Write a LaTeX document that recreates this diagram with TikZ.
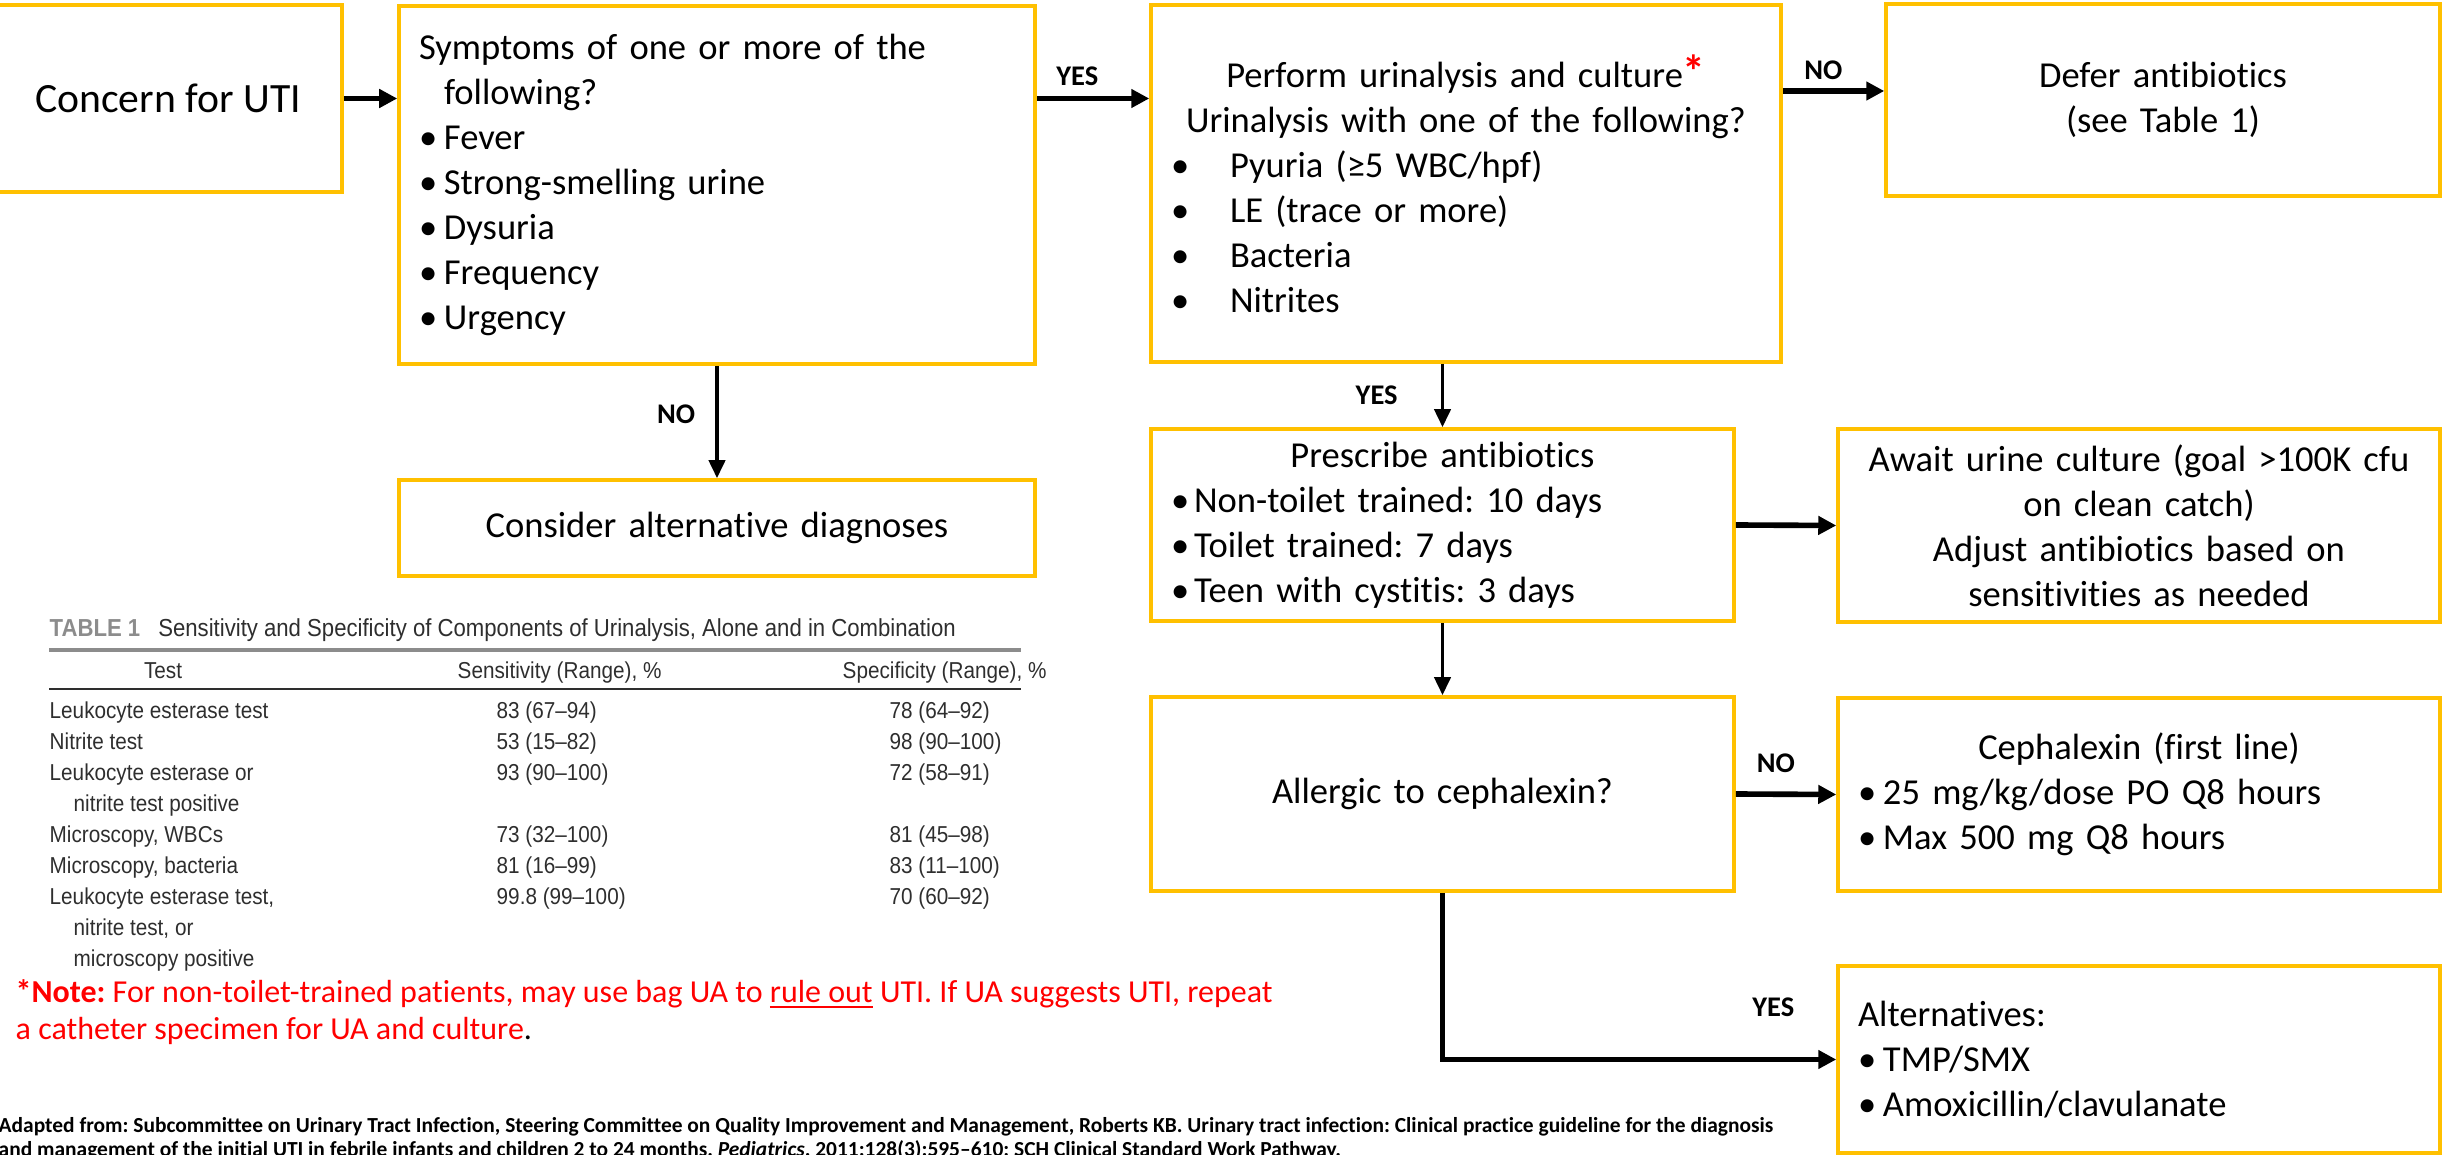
\documentclass[tikz,border=0pt]{standalone}
\usepackage{fontspec}
\setmainfont[Ligatures = NoCommon]{Carlito}
\newfontfamily\tabfont[FakeStretch = 0.9]{Liberation Sans}
\usepackage{xcolor}
\usepackage{tikz}
\usetikzlibrary{arrows.meta}
\definecolor{boxgold}{HTML}{FFC000}
\definecolor{tabgray}{HTML}{2E2E2E}
\definecolor{rulegray}{HTML}{8C8C8C}
\definecolor{notered}{HTML}{FF0000}
\frenchspacing
\tikzstyle{block} = [rectangle, draw = boxgold, line width = 1pt, inner xsep = 0.2cm, inner ysep = 0pt, font = \fontsize{10.4pt}{12.8pt}\selectfont]
\tikzstyle{line} = [line width = 1.6pt, -{Triangle[length = 0.18cm, width = 0.18cm]}]
\tikzstyle{vline} = [line width = 1.1pt, -{Triangle[length = 0.18cm, width = 0.16cm]}]
\tikzstyle{lbl} = [inner sep = 0pt, font = \fontsize{8.1pt}{9pt}\selectfont\bfseries]
\tikzstyle{tab} = [inner sep = 0pt, anchor = base west, text = tabgray, font = \tabfont\fontsize{6.55pt}{8pt}\selectfont]
\tikzstyle{note} = [inner sep = 0pt, anchor = base west, text = notered, font = \fontsize{9.1pt}{10.5pt}\selectfont]
\tikzstyle{cite} = [inner sep = 0pt, anchor = base west, font = \fontsize{6.1pt}{6.8pt}\selectfont\bfseries]
\newcommand{\bul}[1]{\makebox[#1][l]{\textbullet}}

\begin{document}
\begin{tikzpicture}
        \useasboundingbox (0,0) rectangle (24.42,-11.55);
        % flow boxes
        \node (concern) [block, minimum width = 3.48cm, minimum height = 1.87cm, font = \fontsize{11.86pt}{14pt}\selectfont] at (1.68,-0.985) {Concern for UTI};
        \node (sym) [block, text width = 5.96cm, minimum height = 3.58cm, align = left] at (7.17,-1.85) {Symptoms of one or more of the\\ \hspace*{0.25cm}following?\\ \bul{0.25cm}Fever\\ \bul{0.25cm}Strong-smelling urine\\ \bul{0.25cm}Dysuria\\ \bul{0.25cm}Frequency\\ \bul{0.25cm}Urgency\par\vspace*{0.1cm}};
        \node (consider) [block, text width = 5.96cm, minimum height = 0.96cm, align = center] at (7.17,-5.28) {Consider alternative diagnoses};
        \node (perform) [block, text width = 5.90cm, minimum height = 3.57cm, align = left] at (14.66,-1.835) {\makebox[\linewidth]{Perform urinalysis and culture\textcolor{notered}{\fontsize{13pt}{13pt}\selectfont\textbf{*}}}\\ \makebox[\linewidth]{Urinalysis with one of the following?}\\ \bul{0.59cm}Pyuria (≥5 WBC/hpf)\\ \bul{0.59cm}LE (trace or more)\\ \bul{0.59cm}Bacteria\\ \bul{0.59cm}Nitrites};
        \node (defer) [block, text width = 5.14cm, minimum height = 1.92cm, align = center] at (21.63,-1.00) {Defer antibiotics\\(see Table 1)};
        \node (presc) [block, text width = 5.43cm, minimum height = 1.92cm, align = left] at (14.425,-5.25) {\makebox[\linewidth]{Prescribe antibiotics}\\ \bul{0.23cm}Non-toilet trained: 10 days\\ \bul{0.23cm}Toilet trained: 7 days\\ \bul{0.23cm}Teen with cystitis: 3 days};
        \node (await) [block, text width = 5.62cm, minimum height = 1.93cm, align = center] at (21.39,-5.255) {Await urine culture (goal >100K cfu\\on clean catch)\\Adjust antibiotics based on\\sensitivities as needed};
        \node (allergic) [block, text width = 5.43cm, minimum height = 1.94cm, align = center] at (14.425,-7.94) {Allergic to cephalexin?};
        \node (ceph) [block, text width = 5.62cm, minimum height = 1.93cm, align = left] at (21.39,-7.945) {\makebox[\linewidth]{Cephalexin (first line)}\\ \bul{0.25cm}25 mg/kg/dose PO Q8 hours\\ \bul{0.25cm}Max 500 mg Q8 hours};
        \node (alt) [block, text width = 5.62cm, minimum height = 1.87cm, align = left] at (21.39,-10.595) {Alternatives:\\ \bul{0.25cm}TMP/SMX\\ \bul{0.25cm}Amoxicillin/clavulanate};
        \coordinate (nofork) at ([yshift = 0.09cm]defer.west);
        % connectors
        \draw[line] (concern.east) -- (concern.east -| sym.west);
        \draw[line] (sym.east |- concern.east) --node[lbl, above = 0.1cm, pos = 0.36]{YES} (perform.west |- concern.east);
        \draw[line] (perform.east |- nofork) --node[lbl, above = 0.08cm, pos = 0.4]{NO} (nofork);
        \draw[vline] (sym.south) --node[lbl, left = 0.2cm, pos = 0.43]{NO} (consider.north);
        \draw[vline] (presc.north |- perform.south) --node[lbl, left = 0.43cm, pos = 0.5]{YES} (presc.north);
        \draw[line] (presc.east) -- (await.west);
        \draw[vline] (presc.south) -- (allergic.north);
        \draw[line] (allergic.east) --node[lbl, above = 0.19cm, pos = 0.4]{NO} (ceph.west);
        \draw[line] (allergic.south) |-node[lbl, above = 0.4cm, pos = 0.92]{YES} (alt.west);
        % table 1
        \node (tabtitle) [tab, font = \tabfont\fontsize{7pt}{8pt}\selectfont] at (0.49,-6.36) {\textcolor{rulegray}{\textbf{TABLE 1}}\hspace{0.18cm}Sensitivity and Specificity of Components of Urinalysis, Alone and in Combination};
        \draw[rulegray, line width = 0.9pt] (0.49,-6.50) -- (10.21,-6.50);
        \draw[tabgray, line width = 0.55pt] (0.49,-6.89) -- (10.21,-6.89);
        \node (hdtest) [tab, anchor = base] at (1.63,-6.78) {Test};
        \node (hdsens) [tab] at (4.57,-6.78) {Sensitivity (Range), \%};
        \node (hdspec) [tab] at (8.42,-6.78) {Specificity (Range), \%};
        \node (r1) [tab] at (0.49,-7.18) {Leukocyte esterase test};
        \node (r1a) [tab] at (4.96,-7.18) {83 (67–94)};
        \node (r1b) [tab] at (8.89,-7.18) {78 (64–92)};
        \node (r2) [tab] at (0.49,-7.49) {Nitrite test};
        \node (r2a) [tab] at (4.96,-7.49) {53 (15–82)};
        \node (r2b) [tab] at (8.89,-7.49) {98 (90–100)};
        \node (r3) [tab] at (0.49,-7.80) {Leukocyte esterase or};
        \node (r3c) [tab] at (0.73,-8.11) {nitrite test positive};
        \node (r3a) [tab] at (4.96,-7.80) {93 (90–100)};
        \node (r3b) [tab] at (8.89,-7.80) {72 (58–91)};
        \node (r4) [tab] at (0.49,-8.42) {Microscopy, WBCs};
        \node (r4a) [tab] at (4.96,-8.42) {73 (32–100)};
        \node (r4b) [tab] at (8.89,-8.42) {81 (45–98)};
        \node (r5) [tab] at (0.49,-8.73) {Microscopy, bacteria};
        \node (r5a) [tab] at (4.96,-8.73) {81 (16–99)};
        \node (r5b) [tab] at (8.89,-8.73) {83 (11–100)};
        \node (r6) [tab] at (0.49,-9.04) {Leukocyte esterase test,};
        \node (r6c) [tab] at (0.73,-9.35) {nitrite test, or};
        \node (r6d) [tab] at (0.73,-9.66) {microscopy positive};
        \node (r6a) [tab] at (4.96,-9.04) {99.8 (99–100)};
        \node (r6b) [tab] at (8.89,-9.04) {70 (60–92)};
        % note and source
        \node (note1) [note] at (0.15,-10.02) {\textbf{*Note:} For non-toilet-trained patients, may use bag UA to \underline{rule out} UTI. If UA suggests UTI, repeat};
        \node (note2) [note] at (0.15,-10.39) {a catheter specimen for UA and culture\textcolor{black}{.}};
        \node (cite1) [cite] at (-0.02,-11.32) {Adapted from: Subcommittee on Urinary Tract Infection, Steering Committee on Quality Improvement and Management, Roberts KB. Urinary tract infection: Clinical practice guideline for the diagnosis};
        \node (cite2) [cite] at (-0.02,-11.56) {and management of the initial UTI in febrile infants and children 2 to 24 months. \textit{Pediatrics}. 2011;128(3):595–610; SCH Clinical Standard Work Pathway.};
    \end{tikzpicture}
\end{document}
